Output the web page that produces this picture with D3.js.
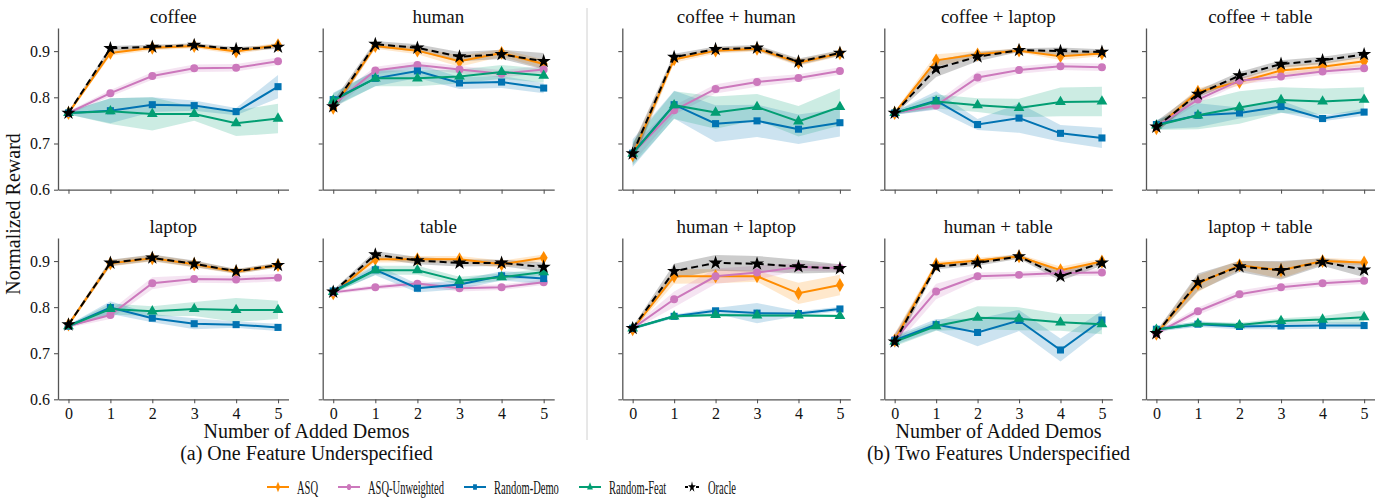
<!DOCTYPE html>
<html><head><meta charset="utf-8">
<script src="https://cdn.jsdelivr.net/npm/d3@7"></script>
<style>
body{margin:0;background:#fff}
text{font-family:"Liberation Serif","Times New Roman",serif;fill:#111}
</style>
</head><body><div id="chart_area"></div><script>

// panel titles, in drawing order
var panels = ["coffee", "human", "laptop", "table",
    "coffee + human", "coffee + laptop", "coffee + table",
    "human + laptop", "human + table", "laptop + table"];
var demos = [0, 1, 2, 3, 4, 5];
var yTicks = [0.6, 0.7, 0.8, 0.9];
var methods = ["ASQ", "ASQ-Unweighted", "Random-Demo", "Random-Feat", "Oracle"];

var asq = [
    [0.766, 0.896, 0.907, 0.911, 0.899, 0.913],
    [0.777, 0.911, 0.901, 0.878, 0.896, 0.872],
    [0.762, 0.895, 0.906, 0.893, 0.877, 0.891],
    [0.830, 0.904, 0.904, 0.904, 0.893, 0.907],
    [0.675, 0.882, 0.901, 0.905, 0.875, 0.895],
    [0.766, 0.880, 0.893, 0.901, 0.889, 0.895],
    [0.733, 0.812, 0.833, 0.858, 0.866, 0.878],
    [0.752, 0.867, 0.867, 0.867, 0.830, 0.848],
    [0.728, 0.893, 0.901, 0.910, 0.880, 0.899],
    [0.742, 0.851, 0.891, 0.880, 0.900, 0.897]];
var asqErr = [
    [0.004, 0.006, 0.005, 0.005, 0.006, 0.005],
    [0.010, 0.006, 0.008, 0.012, 0.008, 0.010],
    [0.004, 0.007, 0.007, 0.007, 0.005, 0.005],
    [0.004, 0.007, 0.007, 0.007, 0.008, 0.007],
    [0.020, 0.007, 0.006, 0.006, 0.007, 0.006],
    [0.004, 0.013, 0.007, 0.004, 0.008, 0.006],
    [0.010, 0.008, 0.008, 0.010, 0.010, 0.010],
    [0.004, 0.016, 0.015, 0.012, 0.023, 0.022],
    [0.015, 0.006, 0.006, 0.005, 0.008, 0.006],
    [0.005, 0.018, 0.010, 0.018, 0.007, 0.006]];

var asqU = [
    [0.766, 0.809, 0.846, 0.863, 0.864, 0.878],
    [0.784, 0.858, 0.870, 0.860, 0.851, 0.860],
    [0.759, 0.783, 0.852, 0.861, 0.860, 0.864],
    [0.832, 0.843, 0.851, 0.841, 0.843, 0.854],
    [0.678, 0.772, 0.818, 0.833, 0.842, 0.857],
    [0.766, 0.782, 0.843, 0.859, 0.867, 0.865],
    [0.737, 0.795, 0.836, 0.845, 0.856, 0.863],
    [0.754, 0.817, 0.867, 0.875, 0.887, 0.885],
    [0.729, 0.834, 0.867, 0.870, 0.874, 0.875],
    [0.743, 0.791, 0.828, 0.843, 0.852, 0.857]];
var asqUErr = [
    [0.004, 0.007, 0.008, 0.008, 0.008, 0.008],
    [0.012, 0.008, 0.008, 0.008, 0.008, 0.008],
    [0.004, 0.009, 0.013, 0.008, 0.008, 0.008],
    [0.004, 0.005, 0.006, 0.007, 0.006, 0.006],
    [0.020, 0.010, 0.010, 0.010, 0.008, 0.008],
    [0.004, 0.008, 0.013, 0.008, 0.008, 0.008],
    [0.008, 0.008, 0.008, 0.008, 0.008, 0.008],
    [0.004, 0.017, 0.017, 0.015, 0.008, 0.008],
    [0.015, 0.017, 0.008, 0.007, 0.007, 0.007],
    [0.005, 0.008, 0.008, 0.008, 0.007, 0.007]];

var randDemo = [
    [0.766, 0.771, 0.784, 0.782, 0.769, 0.823],
    [0.795, 0.841, 0.857, 0.831, 0.833, 0.820],
    [0.759, 0.799, 0.776, 0.764, 0.762, 0.756],
    [0.835, 0.881, 0.841, 0.849, 0.868, 0.862],
    [0.679, 0.784, 0.743, 0.749, 0.731, 0.745],
    [0.766, 0.793, 0.741, 0.755, 0.722, 0.712],
    [0.741, 0.761, 0.766, 0.780, 0.754, 0.768],
    [0.754, 0.780, 0.792, 0.787, 0.786, 0.796],
    [0.728, 0.762, 0.745, 0.771, 0.707, 0.772],
    [0.752, 0.763, 0.758, 0.759, 0.760, 0.760]];
var randDemoErr = [
    [0.003, 0.027, 0.016, 0.011, 0.008, 0.025],
    [0.015, 0.017, 0.015, 0.013, 0.013, 0.011],
    [0.003, 0.014, 0.009, 0.012, 0.007, 0.008],
    [0.004, 0.012, 0.009, 0.010, 0.010, 0.012],
    [0.030, 0.030, 0.040, 0.035, 0.032, 0.030],
    [0.004, 0.020, 0.012, 0.032, 0.018, 0.022],
    [0.010, 0.026, 0.012, 0.013, 0.006, 0.008],
    [0.003, 0.004, 0.006, 0.022, 0.005, 0.005],
    [0.010, 0.012, 0.030, 0.023, 0.025, 0.020],
    [0.005, 0.006, 0.006, 0.007, 0.007, 0.007]];

var randFeat = [
    [0.766, 0.770, 0.764, 0.764, 0.744, 0.754],
    [0.793, 0.841, 0.841, 0.845, 0.855, 0.847],
    [0.759, 0.796, 0.791, 0.796, 0.794, 0.794],
    [0.833, 0.880, 0.880, 0.857, 0.865, 0.876],
    [0.678, 0.783, 0.767, 0.779, 0.748, 0.779],
    [0.766, 0.791, 0.783, 0.777, 0.790, 0.791],
    [0.739, 0.761, 0.778, 0.794, 0.791, 0.795],
    [0.754, 0.780, 0.783, 0.782, 0.782, 0.781],
    [0.725, 0.759, 0.777, 0.775, 0.767, 0.763],
    [0.751, 0.764, 0.761, 0.770, 0.773, 0.778]];
var randFeatErr = [
    [0.003, 0.028, 0.036, 0.015, 0.028, 0.032],
    [0.015, 0.017, 0.017, 0.015, 0.015, 0.015],
    [0.003, 0.012, 0.011, 0.015, 0.026, 0.020],
    [0.004, 0.010, 0.010, 0.009, 0.008, 0.008],
    [0.025, 0.030, 0.035, 0.028, 0.033, 0.040],
    [0.004, 0.015, 0.015, 0.020, 0.031, 0.032],
    [0.010, 0.030, 0.035, 0.028, 0.028, 0.027],
    [0.003, 0.003, 0.003, 0.003, 0.003, 0.003],
    [0.010, 0.010, 0.025, 0.025, 0.018, 0.022],
    [0.004, 0.005, 0.005, 0.006, 0.008, 0.015]];

var oracle = [
    [0.766, 0.906, 0.909, 0.913, 0.904, 0.909],
    [0.780, 0.915, 0.907, 0.888, 0.893, 0.878],
    [0.762, 0.896, 0.907, 0.894, 0.878, 0.891],
    [0.833, 0.914, 0.901, 0.896, 0.896, 0.887],
    [0.678, 0.887, 0.904, 0.907, 0.877, 0.896],
    [0.766, 0.862, 0.888, 0.902, 0.900, 0.898],
    [0.736, 0.807, 0.847, 0.872, 0.880, 0.893],
    [0.754, 0.878, 0.896, 0.894, 0.888, 0.884],
    [0.725, 0.888, 0.896, 0.910, 0.867, 0.896],
    [0.743, 0.854, 0.888, 0.880, 0.898, 0.881]];
var oracleErr = [
    [0.004, 0.005, 0.005, 0.004, 0.005, 0.004],
    [0.012, 0.007, 0.008, 0.010, 0.010, 0.018],
    [0.004, 0.007, 0.007, 0.007, 0.005, 0.005],
    [0.004, 0.008, 0.008, 0.008, 0.007, 0.010],
    [0.020, 0.007, 0.006, 0.006, 0.007, 0.006],
    [0.004, 0.018, 0.010, 0.004, 0.008, 0.006],
    [0.012, 0.008, 0.008, 0.008, 0.008, 0.007],
    [0.004, 0.016, 0.017, 0.017, 0.015, 0.009],
    [0.015, 0.006, 0.006, 0.005, 0.010, 0.006],
    [0.005, 0.019, 0.012, 0.020, 0.008, 0.016]];

var series = [
    {name: methods[0], mean: asq, err: asqErr, color: "#ff8c00", band: "#ff8c00", sym: d3.symbolDiamond, size: 55},
    {name: methods[1], mean: asqU, err: asqUErr, color: "#cc78bc", band: "#cc78bc", sym: d3.symbolCircle, size: 50},
    {name: methods[2], mean: randDemo, err: randDemoErr, color: "#0173b2", band: "#0173b2", sym: d3.symbolSquare, size: 50},
    {name: methods[3], mean: randFeat, err: randFeatErr, color: "#029e73", band: "#029e73", sym: d3.symbolTriangle, size: 50},
    {name: methods[4], mean: oracle, err: oracleErr, color: "#000000", band: "#333333", sym: d3.symbolStar, size: 62, dash: "7,4"}
];

var frame = d3.select("#chart_area").append("svg")
    .attr("width", 1388).attr("height", 498);

// panel placement
var rowTops = [28, 238];
var rowBottoms = [189.7, 399.3];
var leftCols = [58, 322.7];
var rightCols = [622.3, 884.3, 1146];
var place = [
    {x: leftCols[0], w: 230.5, r: 0}, {x: leftCols[1], w: 231.5, r: 0},
    {x: leftCols[0], w: 230.5, r: 1}, {x: leftCols[1], w: 231.5, r: 1},
    {x: rightCols[0], w: 228, r: 0}, {x: rightCols[1], w: 228, r: 0}, {x: rightCols[2], w: 228.5, r: 0},
    {x: rightCols[0], w: 228, r: 1}, {x: rightCols[1], w: 228, r: 1}, {x: rightCols[2], w: 228.5, r: 1}
];

var axisColor = "#555";

panels.forEach(function(title, p) {
    var pl = place[p];
    var h = rowBottoms[pl.r] - rowTops[pl.r];
    var g = frame.append("g").attr("transform", "translate(" + pl.x + "," + rowTops[pl.r] + ")");

    var xScale = d3.scaleLinear().domain([-0.25, 5.25]).range([0, pl.w]);
    var yScale = d3.scaleLinear().domain([0.6, 0.95]).range([h, 0]);

    var showY = (p === 0 || p === 2);
    var showX = pl.r === 1;

    var yAxis = d3.axisLeft(yScale).tickValues(yTicks).tickSize(4).tickSizeOuter(0).tickPadding(4)
        .tickFormat(showY ? d3.format(".1f") : function() { return ""; });
    var xAxis = d3.axisBottom(xScale).tickValues(demos).tickSize(4).tickSizeOuter(0).tickPadding(4)
        .tickFormat(showX ? d3.format("d") : function() { return ""; });

    // bands below everything
    series.forEach(function(s) {
        var area = d3.area()
            .x(function(d, i) { return xScale(demos[i]); })
            .y0(function(d, i) { return yScale(d - s.err[p][i]); })
            .y1(function(d, i) { return yScale(d + s.err[p][i]); });
        g.append("path").attr("d", area(s.mean[p]))
            .attr("fill", s.band).attr("fill-opacity", s.name === "Oracle" ? 0.25 : 0.2)
            .attr("stroke", "none");
    });

    series.forEach(function(s) {
        var line = d3.line()
            .x(function(d, i) { return xScale(demos[i]); })
            .y(function(d) { return yScale(d); });
        g.append("path").attr("d", line(s.mean[p]))
            .attr("fill", "none").attr("stroke", s.color).attr("stroke-width", 2)
            .attr("stroke-dasharray", s.dash || null);
        g.selectAll(null).data(s.mean[p]).enter().append("path")
            .attr("d", d3.symbol().type(s.sym).size(s.size))
            .attr("transform", function(d, i) { return "translate(" + xScale(demos[i]) + "," + yScale(d) + ")"; })
            .attr("fill", s.color);
    });

    var ya = g.append("g").call(yAxis);
    var xa = g.append("g").attr("transform", "translate(0," + h + ")").call(xAxis);
    [ya, xa].forEach(function(a) {
        a.select(".domain").attr("stroke", axisColor).attr("stroke-width", 1.3);
        a.selectAll(".tick line").attr("stroke", axisColor).attr("stroke-width", 1.1);
        a.selectAll(".tick text").attr("font-family", "Liberation Serif").attr("font-size", 16).attr("fill", "#111");
    });

    g.append("text").attr("x", pl.w / 2).attr("y", -5)
        .attr("text-anchor", "middle").attr("font-size", 19).text(title);
});

// divider between the two groups
frame.append("line").attr("x1", 587).attr("x2", 587).attr("y1", 8).attr("y2", 440)
    .attr("stroke", "#d0d0d0").attr("stroke-width", 1);

frame.append("text").attr("transform", "translate(20,214) rotate(-90)")
    .attr("text-anchor", "middle").attr("font-size", 20).text("Normalized Reward");

var groupCenters = [306.5, 998.5];
var captions = ["(a) One Feature Underspecified", "(b) Two Features Underspecified"];
groupCenters.forEach(function(cx, i) {
    frame.append("text").attr("x", cx).attr("y", 438).attr("text-anchor", "middle")
        .attr("font-size", 20).text("Number of Added Demos");
    frame.append("text").attr("x", cx).attr("y", 460).attr("text-anchor", "middle")
        .attr("font-size", 20).text(captions[i]);
});

// legend (squeezed horizontally like the original)
var legendX = [267, 338, 464, 579, 685];
var legend = frame.append("g").attr("transform", "translate(0,487)");
series.forEach(function(s, i) {
    var x0 = legendX[i];
    var len = s.dash ? 14 : 22;
    legend.append("line").attr("x1", x0).attr("x2", x0 + len).attr("y1", 0).attr("y2", 0)
        .attr("stroke", s.color).attr("stroke-width", 2).attr("stroke-dasharray", s.dash ? "3,8" : null);
    legend.append("path").attr("d", d3.symbol().type(s.sym).size(s.size * 0.6))
        .attr("transform", "translate(" + (x0 + len / 2) + ",0) scale(0.7,1)")
        .attr("fill", s.color);
    legend.append("text").attr("transform", "translate(" + (x0 + len + (s.dash ? 9 : 8)) + ",6.5) scale(0.54,1)")
        .attr("font-size", 19.5).text(s.name);
});

</script></body></html>
